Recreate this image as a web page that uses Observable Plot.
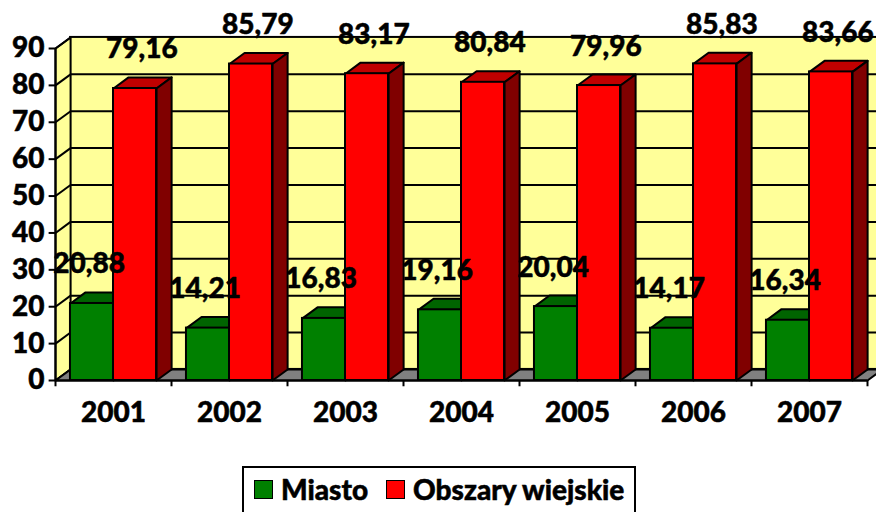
<!DOCTYPE html>
<html>
<head>
<meta charset="utf-8">
<script src="https://cdn.jsdelivr.net/npm/d3@7"></script>
<script src="https://cdn.jsdelivr.net/npm/@observablehq/plot@0.6"></script>
<style>
  body { margin: 0; background: white; overflow: hidden; width: 876px; height: 512px; }
  #legend { position: absolute; left: 242px; top: 466px; height: 60px; box-sizing: border-box; border: 2px solid black; display: flex; align-items: flex-start; padding: 5px 10px 0 10px; font-family: Lato, "Open Sans", sans-serif; font-weight: 900; font-size: 28px; background: white; white-space: nowrap; -webkit-text-stroke: 0.5px black; }
  .sw { width: 17px; height: 17px; border: 1.5px solid black; display: inline-block; margin-right: 8px; flex: none; }
  .item { display: flex; align-items: center; line-height: 32px; white-space: nowrap; }
  .item + .item { margin-left: 18px; }
</style>
</head>
<body>
<div id="chart"></div>
<div id="legend"></div>
<script>
const years = ["2001", "2002", "2003", "2004", "2005", "2006", "2007"];
const miasto = [20.88, 14.21, 16.83, 19.16, 20.04, 14.17, 16.34];
const wies = [79.16, 85.79, 83.17, 80.84, 79.96, 85.83, 83.66];
const seriesNames = ["Miasto", "Obszary wiejskie"];
const yTicks = [0, 10, 20, 30, 40, 50, 60, 70, 80, 90];

// styling / geometry constants
const FONT = "Lato, 'Open Sans', sans-serif";
const FS = 28;
const DX = 0.13, DY = 3;          // 3D depth in scale units
const GAP = 0.129;                // gap at category start
const N = years.length;
const colors = {
  Miasto: {front: "#008000", top: "#006400", side: "#004000"},
  "Obszary wiejskie": {front: "#FF0000", top: "#C00000", side: "#800000"}
};
const textStyle = {fontSize: FS, fontWeight: 900, fontFamily: FONT, fill: "black", stroke: "black", strokeWidth: 0.5};

const bars = [];
years.forEach((y, i) => {
  bars.push({id: "g" + i, s: seriesNames[0], i, v: miasto[i], x0: i + GAP, x1: i + 0.5, lx: i + 0.29});
  bars.push({id: "r" + i, s: seriesNames[1], i, v: wies[i], x0: i + 0.5, x1: i + 1 - GAP, lx: i + 0.745});
});
const poly = (id, pts) => pts.concat([pts[0]]).map(([x, y]) => ({id, x, y}));
const topFace = b => poly(b.id, [[b.x0, b.v], [b.x1, b.v], [b.x1 + DX, b.v + DY], [b.x0 + DX, b.v + DY]]);
const sideFace = b => poly(b.id, [[b.x1, 0], [b.x1, b.v], [b.x1 + DX, b.v + DY], [b.x1 + DX, DY]]);

const floor = poly("floor", [[0, 0], [N, 0], [N + DX, DY], [DX, DY]]);
const leftWall = poly("lw", [[0, 0], [0, 90], [DX, 90 + DY], [DX, DY]]);

const marks = [
  Plot.rect([0], {x1: DX, x2: N + DX + 0.2, y1: DY, y2: 90 + DY, fill: "#FFFF99", stroke: "black", strokeWidth: 2}),
  Plot.ruleY(yTicks.slice(1, -1), {y: d => d + DY, x1: DX, x2: N + DX + 0.2, stroke: "black", strokeWidth: 2}),
  Plot.line(leftWall, {x: "x", y: "y", z: "id", fill: "#FFFF99", stroke: "black", strokeWidth: 2, curve: "linear"}),
  Plot.link(yTicks, {x1: 0, y1: d => d, x2: DX, y2: d => d + DY, stroke: "black", strokeWidth: 2}),
  Plot.line(floor, {x: "x", y: "y", z: "id", fill: "#808080", stroke: "black", strokeWidth: 2, curve: "linear"})
];
for (const s of seriesNames) {
  const bs = bars.filter(b => b.s === s);
  marks.push(
    Plot.line(bs.flatMap(topFace), {x: "x", y: "y", z: "id", fill: colors[s].top, stroke: "black", strokeWidth: 2, strokeLinejoin: "round", curve: "linear"}),
    Plot.line(bs.flatMap(sideFace), {x: "x", y: "y", z: "id", fill: colors[s].side, stroke: "black", strokeWidth: 2, strokeLinejoin: "round", curve: "linear"}),
    Plot.rect(bs, {x1: "x0", x2: "x1", y1: 0, y2: "v", fill: colors[s].front, stroke: "black", strokeWidth: 2})
  );
}
marks.push(
  Plot.ruleX([0], {y1: 0, y2: 90, stroke: "black", strokeWidth: 2}),
  Plot.ruleY([0], {x1: 0, x2: N, stroke: "black", strokeWidth: 2}),
  Plot.ruleY(yTicks, {y: d => d, x1: -0.055, x2: 0, stroke: "black", strokeWidth: 2}),
  Plot.ruleX(d3.range(N + 1), {x: d => d, y1: -1.7, y2: 0, stroke: "black", strokeWidth: 2}),
  Plot.text(yTicks, {x: 0, y: d => d, dx: -11, text: d => String(d), textAnchor: "end", ...textStyle}),
  Plot.text(years, {x: (d, i) => i + 0.5, y: 0, dy: 33, text: d => d, ...textStyle}),
  Plot.text(bars, {x: "lx", y: "v", dy: -39, text: b => b.v.toFixed(2).replace(".", ","), ...textStyle})
);

const chart = Plot.plot({
  width: 876,
  height: 462,
  marginLeft: 55,
  marginRight: 9,
  marginTop: 48,
  marginBottom: 82,
  x: {domain: [0, N], axis: null},
  y: {domain: [0, 90], axis: null},
  style: {background: "white", overflow: "visible"},
  marks
});
document.getElementById("chart").append(chart);

const legend = document.getElementById("legend");
seriesNames.forEach(s => {
  const item = document.createElement("span");
  item.className = "item";
  const sw = document.createElement("span");
  sw.className = "sw";
  sw.style.background = colors[s].front;
  item.append(sw, document.createTextNode(s));
  legend.append(item);
});
</script>
</body>
</html>
